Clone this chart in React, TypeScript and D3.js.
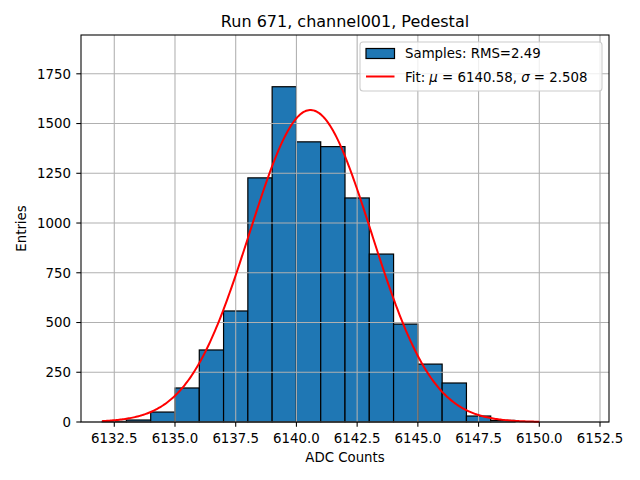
import * as d3 from "d3";

// histogram bins (left edges, width 1 ADC count) and entries per bin
const binStarts = [
  6132, 6133, 6134, 6135, 6136, 6137, 6138, 6139, 6140, 6141, 6142, 6143,
  6144, 6145, 6146, 6147, 6148, 6149, 6150, 6151,
];
const counts = [
  3, 10, 50, 171, 362, 558, 1227, 1685, 1408, 1384, 1126, 844, 492, 291, 196,
  30, 8, 0, 0, 0,
];
const binWidth = 1;

// gaussian fit parameters (from legend)
const fitMu = 6140.58;
const fitSigma = 2.508;
const fitAmp = 1568;
const fitRange = [6132, 6150];

const xTicks = [6132.5, 6135, 6137.5, 6140, 6142.5, 6145, 6147.5, 6150, 6152.5];
const yTicks = [0, 250, 500, 750, 1000, 1250, 1500, 1750];

const W = 640;
const H = 480;
const margin = { left: 81, right: 31, top: 35, bottom: 58 };
const FONT = "DejaVu Sans";

const App = () => {
  const x = d3
    .scaleLinear()
    .domain([6131.13, 6152.87])
    .range([margin.left, W - margin.right]);
  const y = d3
    .scaleLinear()
    .domain([0, 1945])
    .range([H - margin.bottom, margin.top]);

  const x0 = margin.left;
  const x1 = W - margin.right;
  const y0 = H - margin.bottom;
  const y1 = margin.top;

  // fit curve sampled across its range
  const fitXs = d3.range(fitRange[0], fitRange[1] + 0.0001, 0.05);
  const line = d3
    .line<number>()
    .x((v) => x(v))
    .y((v) => y(fitAmp * Math.exp(-0.5 * ((v - fitMu) / fitSigma) ** 2)));

  const legX = 360;
  const legY = 42;
  const legW = 242;
  const legH = 49;

  return (
    <svg
      width={W}
      height={H}
      style={{ position: "absolute", left: 0, top: 0, background: "#fff" }}
      fontFamily={FONT}
    >
      <rect width={W} height={H} fill="#fff" />

      {/* bars */}
      {binStarts.map((b, i) =>
        counts[i] > 0 ? (
          <rect
            key={b}
            x={x(b)}
            y={y(counts[i])}
            width={x(b + binWidth) - x(b)}
            height={y(0) - y(counts[i])}
            fill="#1f77b4"
            stroke="#000"
            strokeWidth={1.2}
          />
        ) : null
      )}

      {/* grid */}
      {xTicks.map((t) => (
        <line
          key={"gx" + t}
          x1={x(t)}
          x2={x(t)}
          y1={y0}
          y2={y1}
          stroke="#b0b0b0"
          strokeWidth={1.07}
        />
      ))}
      {yTicks.map((t) => (
        <line
          key={"gy" + t}
          x1={x0}
          x2={x1}
          y1={y(t)}
          y2={y(t)}
          stroke="#b0b0b0"
          strokeWidth={1.07}
        />
      ))}

      {/* fit */}
      <path d={line(fitXs) || ""} fill="none" stroke="red" strokeWidth={2} />

      {/* spines */}
      <rect
        x={x0}
        y={y1}
        width={x1 - x0}
        height={y0 - y1}
        fill="none"
        stroke="#000"
        strokeWidth={1.07}
      />

      {/* x ticks */}
      {xTicks.map((t) => (
        <g key={"tx" + t}>
          <line x1={x(t)} x2={x(t)} y1={y0} y2={y0 + 4.7} stroke="#000" strokeWidth={1.07} />
          <text x={x(t)} y={y0 + 20.5} fontSize={13.33} textAnchor="middle" fill="#000">
            {t.toFixed(1)}
          </text>
        </g>
      ))}

      {/* y ticks */}
      {yTicks.map((t) => (
        <g key={"ty" + t}>
          <line x1={x0 - 4.7} x2={x0} y1={y(t)} y2={y(t)} stroke="#000" strokeWidth={1.07} />
          <text
            x={x0 - 10}
            y={y(t)}
            dy="0.36em"
            fontSize={13.33}
            textAnchor="end"
            fill="#000"
          >
            {t}
          </text>
        </g>
      ))}

      {/* labels */}
      <text x={(x0 + x1) / 2} y={26.5} fontSize={16} textAnchor="middle" fill="#000">
        Run 671, channel001, Pedestal
      </text>
      <text x={(x0 + x1) / 2} y={462} fontSize={13.33} textAnchor="middle" fill="#000">
        ADC Counts
      </text>
      <text
        transform={`translate(26,${(y0 + y1) / 2}) rotate(-90)`}
        fontSize={13.33}
        textAnchor="middle"
        fill="#000"
      >
        Entries
      </text>

      {/* legend */}
      <rect
        x={legX}
        y={legY}
        width={legW}
        height={legH}
        rx={3}
        fill="#fff"
        fillOpacity={0.8}
        stroke="#cccccc"
        strokeWidth={1.07}
      />
      <rect
        x={366}
        y={48.5}
        width={28.5}
        height={10}
        fill="#1f77b4"
        stroke="#000"
        strokeWidth={1.2}
      />
      <text x={405} y={58} fontSize={13.33} fill="#000">
        Samples: RMS=2.49
      </text>
      <line x1={366} x2={394.5} y1={76.5} y2={76.5} stroke="red" strokeWidth={2} />
      <text x={405} y={81.5} fontSize={13.33} fill="#000">
        Fit: <tspan fontStyle="italic">μ</tspan> = {fitMu.toFixed(2)},{" "}
        <tspan fontStyle="italic">σ</tspan> = {fitSigma.toFixed(3)}
      </text>
    </svg>
  );
};

export default App;
